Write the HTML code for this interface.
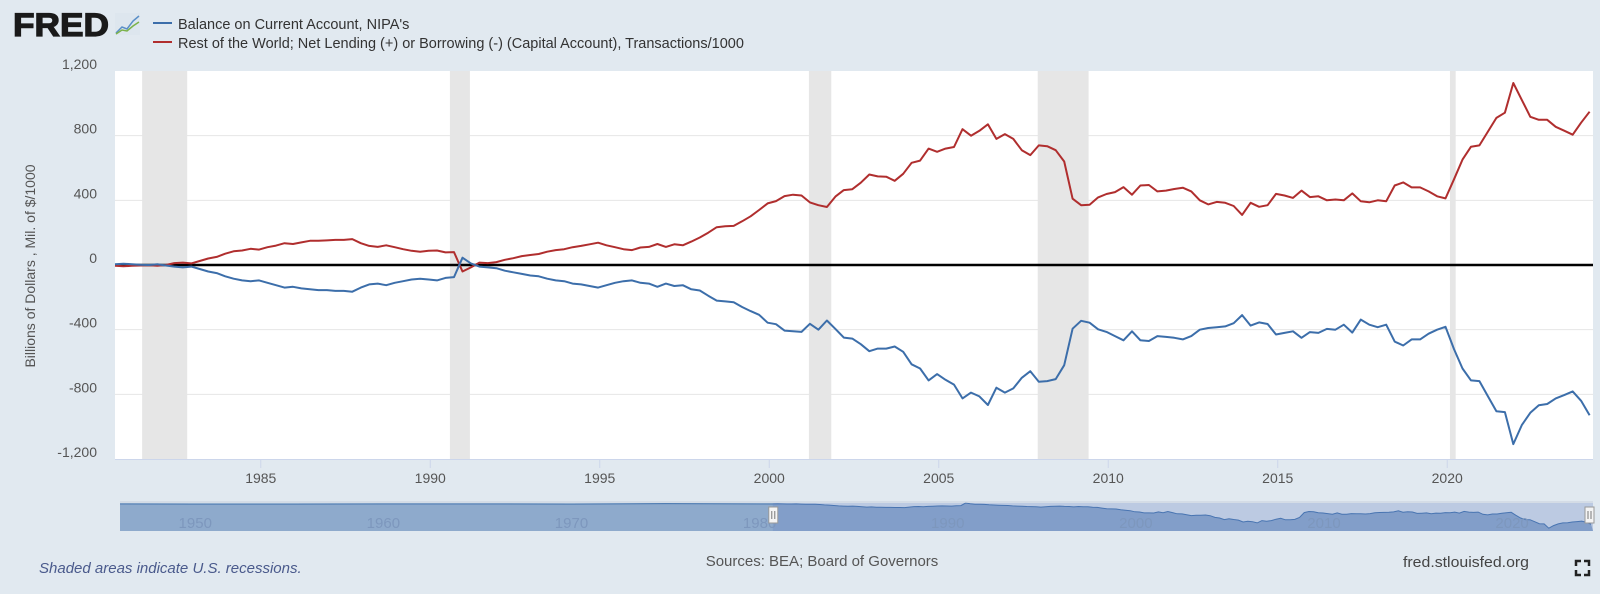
<!DOCTYPE html>
<html><head><meta charset="utf-8"><style>
body{margin:0;background:#e1e9f0;}
svg{display:block;font-family:"Liberation Sans",sans-serif;}
</style></head><body>
<svg id="c" width="1600" height="594" viewBox="0 0 1600 594">
<rect width="1600" height="594" fill="#e1e9f0"/>
<g>
<text x="13" y="36" font-size="32" font-weight="bold" fill="#1a1a1a" stroke="#1a1a1a" stroke-width="1.2" textLength="96" lengthAdjust="spacingAndGlyphs">FRED</text>
<rect x="115" y="13" width="25" height="22" fill="#dde6ee"/>
<polyline points="116,33 122,27 127,29 133,21 139,16" fill="none" stroke="#5a8fc7" stroke-width="1.5"/>
<polyline points="116,34 122,30 127,31 133,26 139,22" fill="none" stroke="#7bb24a" stroke-width="1.5"/>
</g>
<g>
<line x1="153" y1="23" x2="172" y2="23" stroke="#3c6eaa" stroke-width="2"/>
<text x="178" y="29" font-size="14.5" fill="#333">Balance on Current Account, NIPA's</text>
<line x1="153" y1="42" x2="172" y2="42" stroke="#b02e2e" stroke-width="2"/>
<text x="178" y="48" font-size="14.5" fill="#333">Rest of the World; Net Lending (+) or Borrowing (-) (Capital Account), Transactions/1000</text>
</g>
<rect x="115" y="71" width="1478" height="388" fill="#fff"/>
<g id="rec"></g>
<g id="grid"></g>
<g id="yt"></g>
<g id="xt"></g>
<text transform="translate(35,266) rotate(-90)" text-anchor="middle" font-size="14" fill="#555">Billions of Dollars , Mil. of $/1000</text>
<line x1="115" y1="459.5" x2="1593" y2="459.5" stroke="#ccd6eb"/>
<g id="series"></g>
<g id="nav"></g>
<text x="39" y="573" font-size="15" font-style="italic" fill="#4a5a8c">Shaded areas indicate U.S. recessions.</text>
<text x="822" y="566" text-anchor="middle" font-size="15" fill="#555">Sources: BEA; Board of Governors</text>
<text x="1403" y="567" font-size="15" fill="#444" textLength="126" lengthAdjust="spacingAndGlyphs">fred.stlouisfed.org</text>
<g stroke="#222" stroke-width="2.5" fill="none">
<path d="M1576,566 v-5 h5 M1584,561 h5 v5 M1589,570 v5 h-5 M1581,575 h-5 v-5"/>
</g>
</svg>
<script>
const years=[1985,1990,1995,2000,2005,2010,2015,2020];
const yTicks=[1200,800,400,0,-400,-800,-1200];
const yTickLabels=["1,200","800","400","0","-400","-800","-1,200"];
const recStart=[1981.5,1990.58,2001.17,2007.92,2020.08];
const recEnd=[1982.83,1991.17,2001.83,2009.42,2020.25];
const startYear=1980.7;
const currentAccount=[5,
8,5,2,0, 5,-3,-10,-15, -10,-25,-40,-50, -70,-85,-95,-100,
-95,-110,-125,-140, -135,-145,-150,-155, -155,-160,-160,-165, -140,-120,-115,-125,
-110,-100,-90,-85, -90,-95,-80,-75, 45,10,-10,-15, -20,-35,-45,-55,
-65,-70,-85,-95, -100,-115,-120,-130, -140,-125,-110,-100, -95,-110,-115,-135,
-115,-130,-125,-150, -158,-190,-220,-225, -230,-260,-285,-308, -357,-366,-406,-410,
-414,-364,-400,-343, -395,-449,-455,-490, -533,-517,-517,-504, -537,-614,-640,-714,
-675,-710,-740,-825, -789,-813,-866,-759, -789,-763,-698,-657, -722,-718,-706,-620,
-394,-345,-357,-398, -414,-440,-466,-410, -466,-470,-440,-445, -450,-460,-440,-400,
-390,-385,-380,-360, -310,-375,-355,-365, -430,-420,-410,-450, -415,-420,-395,-400,
-369,-418,-338,-369, -385,-369,-474,-498, -460,-460,-425,-400, -382,-520,-640,-714,
-718,-812,-905,-910, -1108,-990,-914,-868, -860,-825,-805,-782, -840,-929];
const netLending=[-5,
-8,-5,-3,-2, -5,0,12,15, 10,25,40,50, 70,85,90,100,
95,110,120,135, 130,140,150,150, 152,155,155,160, 135,118,112,122,
110,98,88,82, 88,90,78,80, -40,-15,15,12, 18,32,42,55,
62,68,82,92, 98,110,118,128, 138,122,110,98, 92,108,112,130,
112,128,122,145, 170,200,234,240, 242,270,301,340, 381,395,426,435,
430,387,370,359, 423,463,469,509, 560,548,546,521, 564,632,646,720,
700,720,730,840, 800,830,870,780, 810,780,710,680, 740,735,710,640,
410,370,373,418, 439,451,482,435, 492,495,455,460, 470,478,455,400,
375,390,385,365, 310,385,360,370, 440,430,415,460, 420,425,400,405,
400,443,394,388, 400,394,492,511, 480,480,455,425, 412,530,652,732,
740,825,910,942, 1126,1021,917,898, 898,855,831,806, 880,948];
const navPreYears=[1946,1950,1955,1960,1965,1970,1975,1980];
const navPreValues=[5,-2,2,3,5,2,18,5];
const navLabels=[1950,1960,1970,1980,1990,2000,2010,2020];

const NS="http://www.w3.org/2000/svg";
function mk(tag,attrs,parent){const e=document.createElementNS(NS,tag);for(const k in attrs)e.setAttribute(k,attrs[k]);parent.appendChild(e);return e;}
const X0=115,X1=1593,Y0=71,Y1=459,xMin=1980.7,xMax=2024.3,vMin=-1200,vMax=1200;
const xs=t=>X0+(t-xMin)/(xMax-xMin)*(X1-X0);
const ys=v=>Y1-(v-vMin)/(vMax-vMin)*(Y1-Y0);
const rec=document.getElementById('rec');
recStart.forEach((s,i)=>{const r=mk('rect',{x:xs(s),y:Y0,width:xs(recEnd[i])-xs(s),height:Y1-Y0,fill:'#e6e6e6'},rec);

});
const grid=document.getElementById('grid'),yt=document.getElementById('yt');
yTicks.forEach((v,i)=>{if(v!==0&&Math.abs(v)!==1200){const l=mk('line',{x1:X0,x2:X1,y1:ys(v),y2:ys(v),stroke:'#e6e6e6'},grid);

}
const t=mk('text',{x:97,y:ys(v)-2,'text-anchor':'end','font-size':14,fill:'#555'},yt);t.textContent=yTickLabels[i];

});
const xt=document.getElementById('xt');
years.forEach(y=>{const l=mk('line',{x1:xs(y),x2:xs(y),y1:459,y2:468,stroke:'#ccd6eb'},xt);


const t=mk('text',{x:xs(y),y:483,'text-anchor':'middle','font-size':14,fill:'#555'},xt);t.textContent=y;

});
const ser=document.getElementById('series');
const zl=mk('line',{x1:X0,x2:X1,y1:ys(0),y2:ys(0),stroke:'#000','stroke-width':2.5},ser);


function pts(arr,fx,fy){return arr.map((v,i)=>fx(startYear+i*0.25).toFixed(1)+','+fy(v).toFixed(1)).join(' ');}
const pr=mk('polyline',{points:pts(netLending,xs,ys),fill:'none',stroke:'#b02e2e','stroke-width':2,'stroke-linejoin':'round'},ser);


const pb=mk('polyline',{points:pts(currentAccount,xs,ys),fill:'none',stroke:'#3c6eaa','stroke-width':2,'stroke-linejoin':'round'},ser);


const nav=document.getElementById('nav');
const NX0=120,NX1=1593,NY0=503,NY1=531,nMin=1946,nMax=2024.3;
const nx=t=>NX0+(t-nMin)/(nMax-nMin)*(NX1-NX0);
const ny=v=>504-v*24/1100;
const nb=mk('rect',{x:NX0,y:NY0,width:NX1-NX0,height:NY1-NY0,fill:'#e1e9f0'},nav);


let p=[];navPreYears.forEach((y,i)=>p.push([nx(y),ny(navPreValues[i])]));
currentAccount.forEach((v,i)=>p.push([nx(startYear+i*0.25),ny(v)]));
const d='M'+NX0+','+NY1+' '+p.map(q=>'L'+q[0].toFixed(1)+','+q[1].toFixed(1)).join(' ')+' L'+NX1+','+NY1+'Z';
const na=mk('path',{d:d,fill:'#8eaacc'},nav);


const nl=mk('polyline',{points:p.map(q=>q[0].toFixed(1)+','+q[1].toFixed(1)).join(' '),fill:'none',stroke:'#3c6eaa','stroke-width':1},nav);


const hx=nx(xMin);
const mask=mk('rect',{x:hx,y:NY0,width:NX1-hx,height:NY1-NY0,fill:'rgba(102,133,194,0.3)'},nav);


const ol=mk('line',{x1:NX0,x2:NX1,y1:502,y2:502,stroke:'#cfd8e3','stroke-width':1.5},nav);


navLabels.forEach(y=>{const t=mk('text',{x:nx(y),y:528,'text-anchor':'middle','font-size':15,fill:'#7d97bd'},nav);t.textContent=y;

});
[hx,NX1-4].forEach(x=>{const h=mk('rect',{x:x-4,y:507,width:9,height:16,fill:'#f4f4f4',stroke:'#999','stroke-width':1},nav);


mk('line',{x1:x-1,x2:x-1,y1:511,y2:519,stroke:'#777'},nav);mk('line',{x1:x+2,x2:x+2,y1:511,y2:519,stroke:'#777'},nav);});
</script>
</body></html>
